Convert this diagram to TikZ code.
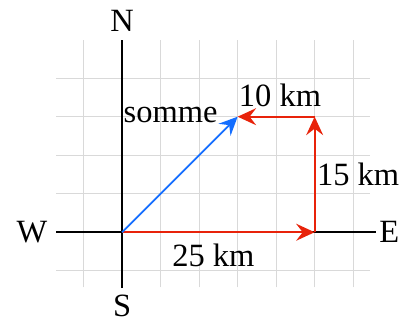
\documentclass[tikz,border=0pt]{standalone}
\usepackage{fontspec}
\setmainfont{Liberation Serif}
\usepackage{tikz}
\usetikzlibrary{arrows.meta,positioning}

\begin{document}
\begin{tikzpicture}[
    x=1cm, y=1cm,
    gridline/.style={draw=black!15, line width=0.9pt},
    axis/.style={draw=black, line width=1.1pt},
    label/.style={font=\fontsize{24}{28}\selectfont, inner sep=1pt},
    redvec/.style={-{Stealth[length=4.8mm, width=4.4mm, inset=1.7mm]}, line width=1.3pt, draw={rgb,255:red,232;green,35;blue,10}},
    bluevec/.style={-{Stealth[length=4.8mm, width=4.4mm, inset=1.7mm]}, line width=1.3pt, draw={rgb,255:red,20;green,110;blue,255}}
]
\useasboundingbox (-3.17,-2.36) rectangle (7.32,6.03);

% grid
\foreach \x in {-1,1,2,...,6}
  \draw[gridline] (\x,-1.43) -- (\x,5);
\foreach \y in {-1,1,2,3,4}
  \draw[gridline] (-1.71,\y) -- (6.44,\y);

% axes
\coordinate (O) at (0,0);
\node[label] (north) at (0,5.48) {N};
\node[label] (south) at (0,-1.9) {S};
\node[label] (west) at (-2.34,0) {W};
\node[label] (east) at (6.94,0) {E};
\draw[axis] (0,-1.45) -- (0,5);
\draw[axis] (-1.71,0) -- (6.6,0);

% displacements
\coordinate (A) at (5,0);
\coordinate (B) at (5,3);
\coordinate (C) at (3,3);
\draw[redvec] (O) -- (A);
\draw[redvec] (A) -- (B);
\draw[redvec] (B) -- (C);
\draw[bluevec] (O) -- (C);

% labels
\node[label] (d25) at (2.37,-0.6) {25 km};
\node[label] (d15) at (6.13,1.5) {15 km};
\node[label] (d10) at (4.1,3.55) {10 km};
\node[label, anchor=base east] (sum) at (2.52,2.85) {somme};

\end{tikzpicture}
\end{document}
